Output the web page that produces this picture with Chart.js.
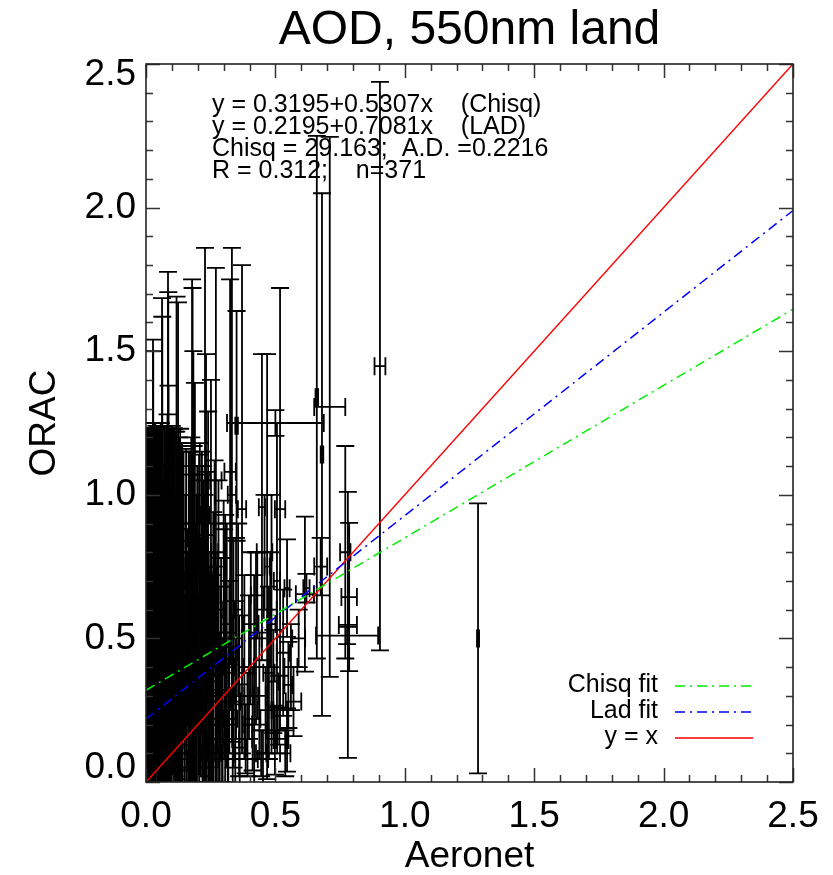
<!DOCTYPE html>
<html><head><meta charset="utf-8">
<script src="https://cdn.jsdelivr.net/npm/chart.js@4.4.1/dist/chart.umd.min.js"></script>
<style>html,body{margin:0;padding:0;background:#fff}</style>
</head><body>
<canvas id="c" width="833" height="875"></canvas>
<script>
// ---- data (Aeronet vs ORAC AOD, 550nm land) ----
const aeronet = [
0.005,0.008,0.010,0.012,0.015,0.018,0.020,0.022,0.025,0.027,
0.028,0.030,0.032,0.035,0.037,0.040,0.042,0.045,0.047,0.050,
0.052,0.055,0.057,0.060,0.062,0.063,0.065,0.067,0.070,0.072,
0.074,0.076,0.078,0.080,0.082,0.085,0.086,0.087,0.088,0.090,
0.092,0.094,0.096,0.098,0.100,0.102,0.104,0.106,0.108,0.110,
0.112,0.114,0.116,0.118,0.120,0.122,0.124,0.126,0.128,0.130,
0.133,0.135,0.137,0.140,0.142,0.145,0.147,0.150,0.152,0.155,
0.157,0.160,0.163,0.165,0.168,0.003,0.006,0.014,0.002,0.019,
0.172,0.175,0.178,0.180,0.182,0.183,0.186,0.189,0.192,0.195,
0.198,0.202,0.205,0.208,0.212,0.215,0.218,0.222,0.225,0.228,
0.232,0.235,0.240,0.244,0.248,0.251,0.255,0.260,0.265,0.270,
0.274,0.280,0.285,0.290,0.296,0.300,0.306,0.312,0.318,0.325,
0.332,0.338,0.345,0.350,0.356,0.362,0.371,0.380,0.392,
0.405,0.418,0.430,0.445,0.448,0.458,0.468,0.475,0.485,0.498,
0.500,0.506,0.507,0.518,0.530,0.545,0.545,0.550,0.570,0.590,
0.614,0.620,0.660,0.675,0.680,0.710,0.770,0.777,0.780,0.785,
0.904,1.283,
0.004,0.007,0.009,0.011,0.013,0.016,0.017,0.021,0.023,0.024,
0.026,0.029,0.031,0.033,0.036,0.038,0.041,0.043,0.046,0.048,
0.051,0.053,0.056,0.058,0.061,0.064,0.066,0.068,0.071,0.073,
0.075,0.077,0.079,0.081,0.083,0.089,0.091,0.093,0.095,0.097,
0.101,0.103,0.107,0.109,0.113,0.117,0.121,0.127,0.132,0.138,
0.170,0.176,0.184,0.190,0.196,0.200,0.206,0.210,0.216,0.220,
0.226,0.230,0.236,0.242,0.246,0.252,0.258,0.262,0.268,0.276,
0.282,0.288,0.294,0.302,0.310,0.316,0.322,0.335,0.348,0.360,
0.385,0.398,0.412,0.425,0.438,0.452,0.462,0.480,0.492,0.515,
0.538,0.560];
const aeronetErr = [
0.004,0.005,0.006,0.005,0.008,0.006,0.010,0.007,0.009,0.008,
0.006,0.010,0.012,0.008,0.010,0.012,0.009,0.010,0.011,0.012,
0.008,0.013,0.010,0.011,0.012,0.010,0.014,0.009,0.012,0.015,
0.010,0.013,0.011,0.012,0.010,0.014,0.012,0.013,0.010,0.016,
0.011,0.012,0.013,0.014,0.010,0.015,0.012,0.011,0.016,0.013,
0.012,0.014,0.010,0.015,0.013,0.012,0.014,0.011,0.016,0.012,
0.013,0.015,0.011,0.014,0.012,0.013,0.016,0.012,0.014,0.011,
0.015,0.013,0.012,0.014,0.011,0.003,0.004,0.005,0.002,0.007,
0.015,0.012,0.018,0.014,0.012,0.016,0.013,0.015,0.012,0.020,
0.014,0.016,0.013,0.018,0.012,0.017,0.014,0.015,0.013,0.016,
0.020,0.014,0.025,0.015,0.018,0.013,0.020,0.016,0.014,0.022,
0.015,0.018,0.013,0.020,0.016,0.025,0.014,0.020,0.015,0.022,
0.016,0.018,0.020,0.005,0.015,0.025,0.016,0.020,0.018,
0.030,0.015,0.025,0.020,0.012,0.030,0.010,0.022,0.015,0.005,
0.187,0.012,0.040,0.020,0.025,0.005,0.010,0.015,0.030,0.025,
0.035,0.012,0.005,0.025,0.005,0.060,0.020,0.120,0.035,0.030,
0.021,0.004,
0.003,0.004,0.005,0.006,0.005,0.007,0.006,0.008,0.007,0.009,
0.008,0.010,0.009,0.011,0.010,0.012,0.010,0.011,0.012,0.010,
0.013,0.011,0.012,0.010,0.013,0.011,0.012,0.014,0.011,0.012,
0.013,0.010,0.014,0.012,0.013,0.012,0.014,0.011,0.012,0.015,
0.012,0.013,0.011,0.014,0.012,0.013,0.015,0.012,0.014,0.013,
0.014,0.016,0.013,0.018,0.015,0.020,0.014,0.017,0.015,0.022,
0.016,0.014,0.018,0.020,0.016,0.025,0.015,0.018,0.020,0.016,
0.022,0.018,0.015,0.020,0.018,0.025,0.020,0.018,0.022,0.020,
0.025,0.020,0.030,0.022,0.025,0.020,0.030,0.025,0.020,0.030,
0.020,0.025];
const orac = [
0.12,0.35,0.62,0.21,0.48,0.85,0.05,0.30,0.72,0.65,
0.70,0.40,0.95,0.18,0.55,0.80,0.26,0.60,0.12,0.42,
0.90,0.33,0.70,0.08,0.80,0.60,0.50,0.22,0.85,0.40,
0.15,0.65,0.95,0.30,0.55,0.90,0.75,0.80,0.10,0.45,
0.70,0.25,0.58,0.38,0.82,0.15,0.62,0.48,0.92,0.30,
0.70,0.05,0.55,0.85,0.35,0.78,0.90,0.20,0.60,0.42,
0.75,0.12,0.50,0.88,0.28,0.65,0.40,0.08,0.58,0.80,
0.30,0.50,0.18,0.70,0.45,0.78,0.50,0.95,0.30,0.60,
0.40,0.65,0.85,0.80,0.25,0.75,0.55,0.60,0.12,0.45,
0.70,0.30,0.52,0.85,0.20,0.62,0.40,0.75,0.10,0.93,
0.72,0.48,0.60,0.28,0.55,0.70,0.15,0.42,0.80,1.05,
0.35,0.60,0.22,0.50,0.08,0.68,0.38,0.55,0.15,1.08,
1.00,0.45,0.28,1.24,0.60,0.12,0.95,0.40,0.20,
0.55,0.30,0.65,0.10,0.957,0.80,0.75,0.38,0.55,0.146,
1.25,0.70,0.18,0.95,0.45,0.146,0.675,0.338,0.28,0.50,
0.654,0.675,1.34,0.75,1.14,1.306,0.80,0.51,0.547,0.644,
1.448,0.50,
0.55,0.90,0.25,0.75,0.40,0.15,0.68,0.92,0.50,0.20,
0.82,0.35,0.58,0.10,0.75,0.45,0.88,0.30,0.65,0.52,
0.20,0.78,0.45,0.95,0.35,0.70,0.15,0.55,0.92,0.28,
0.62,0.45,0.80,0.12,0.68,0.38,0.88,0.55,0.18,0.72,
0.48,0.95,0.25,0.65,0.40,0.80,0.55,0.35,0.68,0.22,
0.55,0.30,0.72,0.40,0.25,0.62,0.15,0.45,0.80,0.30,
0.55,0.20,0.68,0.40,0.10,0.50,0.30,0.65,0.20,0.45,
0.12,0.38,0.25,0.48,0.30,0.10,0.40,0.22,0.50,0.30,
0.15,0.40,0.22,0.50,0.30,0.08,0.25,0.60,0.35,0.25,
0.10,0.40];
const oracErr = [
0.15,0.30,0.55,0.25,0.42,0.38,0.12,0.52,0.51,0.89,
0.80,0.35,0.30,0.30,0.68,0.44,0.22,0.62,0.20,0.80,
0.33,0.41,0.55,0.18,0.885,1.02,0.48,0.35,0.37,0.62,
0.27,0.57,0.27,0.45,0.36,0.876,0.956,0.58,0.22,0.70,
0.40,0.31,0.65,0.50,0.42,0.40,0.30,0.75,0.31,0.28,
0.52,0.15,0.45,0.84,0.55,0.40,0.77,0.25,0.60,0.38,
0.35,0.30,0.68,0.30,0.45,0.50,0.25,0.20,0.42,0.36,
0.58,0.30,0.35,0.45,0.62,0.45,0.70,0.28,0.55,0.25,
0.44,0.55,0.90,0.92,0.40,0.75,0.35,0.79,0.25,0.55,
0.40,0.35,0.62,0.33,0.18,0.45,0.70,0.30,0.30,0.93,
0.77,0.38,0.69,0.45,0.25,0.70,0.22,0.52,0.32,0.74,
0.40,0.45,0.30,0.28,0.20,0.30,0.55,0.35,0.28,0.67,
0.86,0.40,0.35,0.40,0.30,0.22,0.85,0.32,0.18,
0.25,0.42,0.15,0.08,0.533,0.20,0.74,0.30,0.45,0.12,
0.045,0.55,0.08,0.77,0.22,0.11,0.17,0.15,0.12,0.10,
0.27,0.05,0.91,0.10,0.91,0.94,0.37,0.03,0.463,0.258,
0.99,0.47,
0.40,0.33,0.35,0.48,0.60,0.20,0.55,0.31,0.50,0.28,
0.41,0.45,0.30,0.18,0.50,0.70,0.35,0.25,0.40,0.72,
0.33,0.45,0.30,0.29,0.60,0.42,0.26,0.50,0.32,0.48,
0.35,0.55,0.43,0.22,0.60,0.42,0.35,0.68,0.30,0.50,
0.40,0.28,0.45,0.58,0.35,0.42,0.62,0.30,0.55,0.40,
0.60,0.35,0.45,0.50,0.30,0.38,0.22,0.40,0.35,0.30,
0.45,0.25,0.40,0.35,0.18,0.30,0.42,0.25,0.28,0.35,
0.20,0.30,0.25,0.40,0.22,0.15,0.30,0.25,0.35,0.28,
0.12,0.25,0.18,0.30,0.22,0.10,0.15,0.20,0.18,0.12,
0.08,0.15];
const chisqFit = [0.3195, 0.5307];   // intercept, slope
const ladFit   = [0.2195, 0.7081];
const identityFit = [0, 1];
const axisRange = [0, 2.5];
const xTickLabels = ['0.0','0.5','1.0','1.5','2.0','2.5'];
const yTickLabels = ['0.0','0.5','1.0','1.5','2.0','2.5'];
const statsLines = [
  'y = 0.3195+0.5307x    (Chisq)',
  'y = 0.2195+0.7081x    (LAD)',
  'Chisq = 29.163;  A.D. =0.2216',
  'R = 0.312;    n=371'];
const legendLabels = ['Chisq fit', 'Lad fit', 'y = x'];
const titleText = 'AOD, 550nm land';
const xTitle = 'Aeronet';
const yTitle = 'ORAC';

const FONT = "'Liberation Sans', Arial, Helvetica, sans-serif";
const lineData = f => axisRange.map(v => ({x: v, y: f[0] + f[1] * v}));
const COLORS = ['#00ee00', '#0000ff', '#ff0000'];
const DASHES = [[10,5,2,5],[10,5,2,5],[]];

const errorBars = {
  id: 'errorBars',
  beforeDatasetsDraw(chart) {
    const {ctx, chartArea: a, scales: {x, y}} = chart;
    const cap = 9;
    ctx.save();
    ctx.beginPath(); ctx.rect(a.left, a.top, a.right - a.left, a.bottom - a.top); ctx.clip();
    ctx.strokeStyle = '#000'; ctx.lineWidth = 1.8;
    for (let i = 0; i < aeronet.length; i++) {
      const px = x.getPixelForValue(aeronet[i]), py = y.getPixelForValue(orac[i]);
      const y1 = y.getPixelForValue(orac[i] - oracErr[i]), y2 = y.getPixelForValue(orac[i] + oracErr[i]);
      const x1 = x.getPixelForValue(aeronet[i] - aeronetErr[i]), x2 = x.getPixelForValue(aeronet[i] + aeronetErr[i]);
      ctx.beginPath();
      ctx.moveTo(px, y1); ctx.lineTo(px, y2);
      ctx.moveTo(px - cap, y1); ctx.lineTo(px + cap, y1);
      ctx.moveTo(px - cap, y2); ctx.lineTo(px + cap, y2);
      ctx.moveTo(x1, py); ctx.lineTo(x2, py);
      ctx.moveTo(x1, py - cap); ctx.lineTo(x1, py + cap);
      ctx.moveTo(x2, py - cap); ctx.lineTo(x2, py + cap);
      ctx.stroke();
    }
    ctx.restore();
  }
};

const frame = {
  id: 'frame',
  beforeDraw(chart) {
    const items = chart.scales.y.getLabelItems();
    if (!items._shifted) {
      items.forEach(it => {
        if (it.label === yTickLabels[0]) it.options.translation[1] -= 14;
        else if (it.label === yTickLabels[yTickLabels.length - 1]) it.options.translation[1] += 11;
      });
      items._shifted = true;
    }
  },
  afterDraw(chart) {
    const {ctx, chartArea: a, scales: {x, y}} = chart;
    ctx.save();
    ctx.strokeStyle = '#333'; ctx.lineWidth = 1.5;
    ctx.beginPath();
    for (let k = 0; k <= 25; k++) {
      const v = k / 10, len = (k % 5 === 0) ? 14 : 7;
      const px = Math.round(x.getPixelForValue(v)) + 0.5;
      ctx.moveTo(px, a.bottom); ctx.lineTo(px, a.bottom - len);
      ctx.moveTo(px, a.top); ctx.lineTo(px, a.top + len);
      const py = Math.round(y.getPixelForValue(v)) + 0.5;
      ctx.moveTo(a.left, py); ctx.lineTo(a.left + len, py);
      ctx.moveTo(a.right, py); ctx.lineTo(a.right - len, py);
    }
    ctx.stroke();
    ctx.strokeStyle = '#222'; ctx.lineWidth = 1.6;
    ctx.strokeRect(a.left, a.top, a.right - a.left, a.bottom - a.top);
    ctx.fillStyle = '#000';
    ctx.font = '25px ' + FONT;
    ctx.textAlign = 'left'; ctx.textBaseline = 'middle';
    statsLines.forEach((t, i) => ctx.fillText(t, a.left + 66, a.top + 41 + 22 * i));
    ctx.textAlign = 'right';
    legendLabels.forEach((t, i) => {
      const yy = a.bottom - 97 + 26 * i;
      ctx.fillStyle = '#000';
      ctx.fillText(t, a.right - 135, yy);
      ctx.strokeStyle = COLORS[i]; ctx.lineWidth = 1.5; ctx.setLineDash(DASHES[i]);
      ctx.beginPath(); ctx.moveTo(a.right - 118, yy + 1); ctx.lineTo(a.right - 40, yy + 1); ctx.stroke();
    });
    ctx.setLineDash([]);
    ctx.restore();
  }
};

new Chart(document.getElementById('c'), {
  type: 'scatter',
  data: {
    datasets: [
      {label: 'data', data: aeronet.map((v, i) => ({x: v, y: orac[i]})), pointRadius: 0, showLine: false},
      {label: legendLabels[0], data: lineData(chisqFit), showLine: true, pointRadius: 0, borderColor: COLORS[0], borderWidth: 1.5, borderDash: DASHES[0]},
      {label: legendLabels[1], data: lineData(ladFit), showLine: true, pointRadius: 0, borderColor: COLORS[1], borderWidth: 1.5, borderDash: DASHES[1]},
      {label: legendLabels[2], data: lineData(identityFit), showLine: true, pointRadius: 0, borderColor: COLORS[2], borderWidth: 1.5}
    ]
  },
  options: {
    responsive: false, animation: false, devicePixelRatio: 1,
    layout: {padding: {left: 0, right: 40, top: 0, bottom: 0}},
    plugins: {
      legend: {display: false}, tooltip: {enabled: false},
      title: {display: true, text: titleText, fullSize: false, color: '#000',
              font: {family: FONT, size: 48, weight: 'normal', lineHeight: 1.2}, padding: {top: 2, bottom: 4.4}}
    },
    scales: {
      x: {
        type: 'linear', min: axisRange[0], max: axisRange[1],
        grid: {display: false, drawTicks: false}, border: {display: false},
        ticks: {stepSize: 0.5, autoSkip: false, maxRotation: 0, padding: 13, color: '#000',
                font: {family: FONT, size: 37}, callback: (v, i) => xTickLabels[i]},
        title: {display: true, text: xTitle, color: '#000', font: {family: FONT, size: 37, lineHeight: 1}, padding: {top: 0, bottom: 0}},
        afterFit(s) { s.height = 93; }
      },
      y: {
        type: 'linear', min: axisRange[0], max: axisRange[1],
        grid: {display: false, drawTicks: false}, border: {display: false},
        ticks: {stepSize: 0.5, autoSkip: false, padding: 10, color: '#000',
                font: {family: FONT, size: 37}, callback: (v, i) => yTickLabels[i]},
        title: {display: true, text: yTitle, color: '#000', font: {family: FONT, size: 37, lineHeight: 1}, padding: {top: 26, bottom: 0}},
        afterFit(s) { s.width = 146; }
      }
    }
  },
  plugins: [errorBars, frame]
});
</script>
</body></html>
